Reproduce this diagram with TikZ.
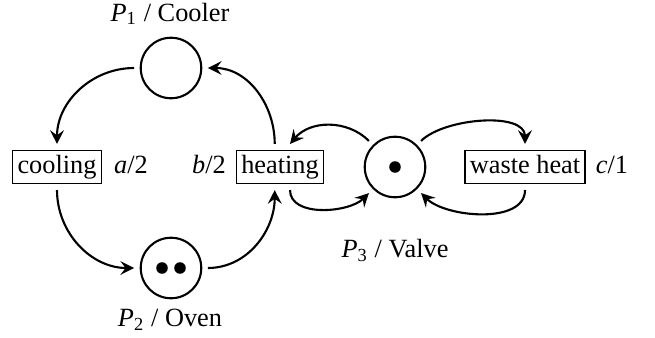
\documentclass[tikz,border=0pt]{standalone}
\usepackage{fontspec}
\setmainfont{Liberation Serif}
\usetikzlibrary{arrows.meta}
\begin{document}
\begin{tikzpicture}[x=0.38pt,y=-0.38pt,
  place/.style={circle,draw,line width=0.8pt,minimum size=23pt,inner sep=0pt,outer sep=2.5pt},
  trans/.style={draw,line width=0.5pt,inner xsep=1.8pt,inner ysep=1.7pt,text height=6.9pt,text depth=2.2pt,outer sep=2.5pt},
  lab/.style={inner sep=0pt,text height=6.8pt,text depth=2.2pt},
  token/.style={circle,fill,inner sep=0pt,minimum size=4.4pt},
  arc/.style={line width=0.8pt,-{Stealth[length=5.2pt,width=5.2pt,inset=1.9pt]}}]
\useasboundingbox (0,0) rectangle (655,338);
% places
\node[place] (P1) at (171,68) {};
\node[place] (P2) at (171,268) {};
\node[place] (P3) at (395,167) {};
\node[token] (t1) at (162,268) {};
\node[token] (t2) at (180,268) {};
\node[token] (t3) at (395,167) {};
% transitions
\node[trans] (cool) at (57,167) {cooling};
\node[trans] (heat) at (280,167) {heating};
\node[trans] (waste) at (525,167) {waste heat};
% labels
\node[lab] (l1) at (170,15) {\textit{P}\textsubscript{1} / Cooler};
\node[lab] (l2) at (170,320) {\textit{P}\textsubscript{2} / Oven};
\node[lab] (l3) at (395,251) {\textit{P}\textsubscript{3} / Valve};
\node[lab] (la) at (131,167) {\textit{a}/2};
\node[lab] (lb) at (209,167) {\textit{b}/2};
\node[lab] (lc) at (612,167) {\textit{c}/1};
% arcs
\draw[arc] (P1.west) to[out=180,in=90] (cool.north);
\draw[arc] (cool.south) to[out=-90,in=180] (P2.west);
\draw[arc] (P2.east) to[out=0,in=-90] ([xshift=-2pt]heat.south);
\draw[arc] ([xshift=-2pt]heat.north) to[out=90,in=0] (P1.east);
\draw[arc] (P3.135) to[out=135,in=50] ([xshift=3.8pt]heat.north);
\draw[arc] ([xshift=3.8pt]heat.south) to[out=-90,in=-135,looseness=0.9] (P3.225);
\draw[arc] (P3.45) to[out=45,in=90,looseness=0.8] (waste.north);
\draw[arc] (waste.south) to[out=-90,in=-45,looseness=0.85] (P3.315);
\end{tikzpicture}
\end{document}
